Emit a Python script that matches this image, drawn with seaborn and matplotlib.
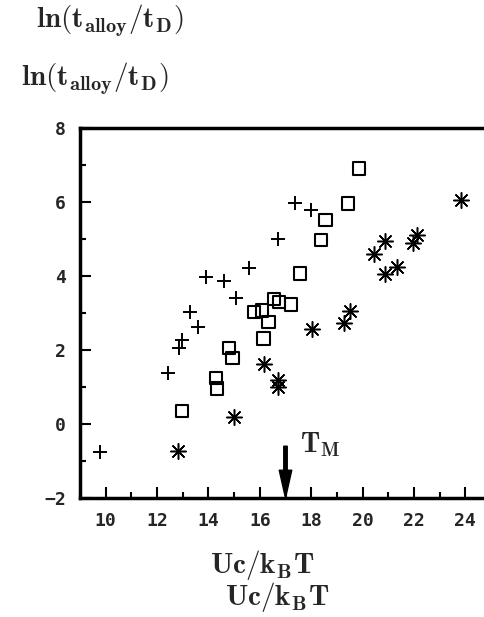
import matplotlib
matplotlib.use('Agg')
import matplotlib.pyplot as plt
import seaborn as sns
import pandas as pd
from matplotlib.ticker import MultipleLocator

# Data (x = Uc/kBT, y = ln(t_alloy/t_D))
plus_x = [17.37, 18.01, 16.69, 15.58, 13.91, 14.61, 15.08, 13.27, 13.58, 12.98, 12.85, 12.44, 9.77]
plus_y = [5.96, 5.78, 5.00, 4.22, 3.96, 3.86, 3.41, 3.03, 2.62, 2.27, 2.06, 1.37, -0.75]

square_x = [19.86, 19.44, 18.56, 18.38, 17.57, 16.56, 16.74, 17.21, 15.78, 16.09, 16.33,
            16.15, 14.80, 14.93, 14.30, 14.34, 12.98]
square_y = [6.90, 5.96, 5.51, 4.97, 4.07, 3.38, 3.30, 3.23, 3.03, 3.07, 2.75,
            2.31, 2.06, 1.79, 1.25, 0.96, 0.35]

star_x = [23.85, 22.12, 21.97, 20.87, 20.45, 21.33, 20.87, 19.53, 19.28, 18.04,
          16.16, 16.72, 16.69, 14.99, 12.83]
star_y = [6.05, 5.10, 4.88, 4.94, 4.60, 4.24, 4.05, 3.05, 2.72, 2.57,
          1.61, 1.19, 1.01, 0.20, -0.73]

x_ticks = [10, 12, 14, 16, 18, 20, 22, 24]
y_ticks = [-2, 0, 2, 4, 6, 8]
y_ticklabels = ['\u22122', '0', '2', '4', '6', '8']
tm_x = 17.0

sns.set_style('white')
plt.rcParams['mathtext.fontset'] = 'cm'

fig = plt.figure(figsize=(4.84, 6.17), dpi=100)
ax = fig.add_axes([80 / 484, 119 / 617, 411 / 484, 370 / 617])

plus_df = pd.DataFrame({'x': plus_x, 'y': plus_y})
square_df = pd.DataFrame({'x': square_x, 'y': square_y})
star_df = pd.DataFrame({'x': star_x, 'y': star_y})

sns.scatterplot(data=plus_df, x='x', y='y', marker='+', s=110, color='black',
                linewidth=1.4, ax=ax, zorder=3)
sns.scatterplot(data=square_df, x='x', y='y', marker='s', s=80, color='black',
                facecolor='none', edgecolor='black', linewidth=1.5, ax=ax, zorder=3)
sns.scatterplot(data=star_df, x='x', y='y', marker=(8, 2, 0), s=125, color='black',
                linewidth=1.1, ax=ax, zorder=3)

ax.set_xlim(9, 25)
ax.set_ylim(-2, 8)
ax.set_xticks(x_ticks)
ax.set_yticks(y_ticks)
ax.set_yticklabels(y_ticklabels)
ax.xaxis.set_minor_locator(MultipleLocator(1))
ax.yaxis.set_minor_locator(MultipleLocator(1))
ax.tick_params(which='major', direction='in', length=8, width=1.5, color='black',
               bottom=True, left=True, top=False, right=False, pad=10)
ax.tick_params(which='minor', direction='in', length=4, width=1.5, color='black',
               bottom=True, left=True, top=False, right=False)
for lab in ax.get_xticklabels() + ax.get_yticklabels():
    lab.set_fontfamily('DejaVu Sans Mono')
    lab.set_fontweight('bold')
    lab.set_fontsize(13)

for side in ['left', 'top', 'bottom', 'right']:
    ax.spines[side].set_linewidth(2.5)
    ax.spines[side].set_color('black')
ax.set_xlabel('')
ax.set_ylabel('')

# T_M marker arrow
ax.annotate('', xy=(tm_x, -2), xytext=(tm_x, -0.6),
            arrowprops=dict(facecolor='black', edgecolor='black', width=2.5,
                            headwidth=9, headlength=20))
ax.text(18.35, -0.55, r'$\mathbf{T_M}$', fontsize=20, ha='center', va='center')

ylabel = r'$\mathbf{ln(t_{alloy}/t_D)}$'
xlabel = r'$\mathbf{Uc/k_BT}$'
fig.text(110 / 484, 1 - 20 / 617, ylabel, fontsize=21, ha='center', va='center')
fig.text(95 / 484, 1 - 78 / 617, ylabel, fontsize=21, ha='center', va='center')
fig.text(262 / 484, 1 - 565 / 617, xlabel, fontsize=21, ha='center', va='center')
fig.text(277 / 484, 1 - 597 / 617, xlabel, fontsize=21, ha='center', va='center')

fig.savefig('out.png', dpi=100)
